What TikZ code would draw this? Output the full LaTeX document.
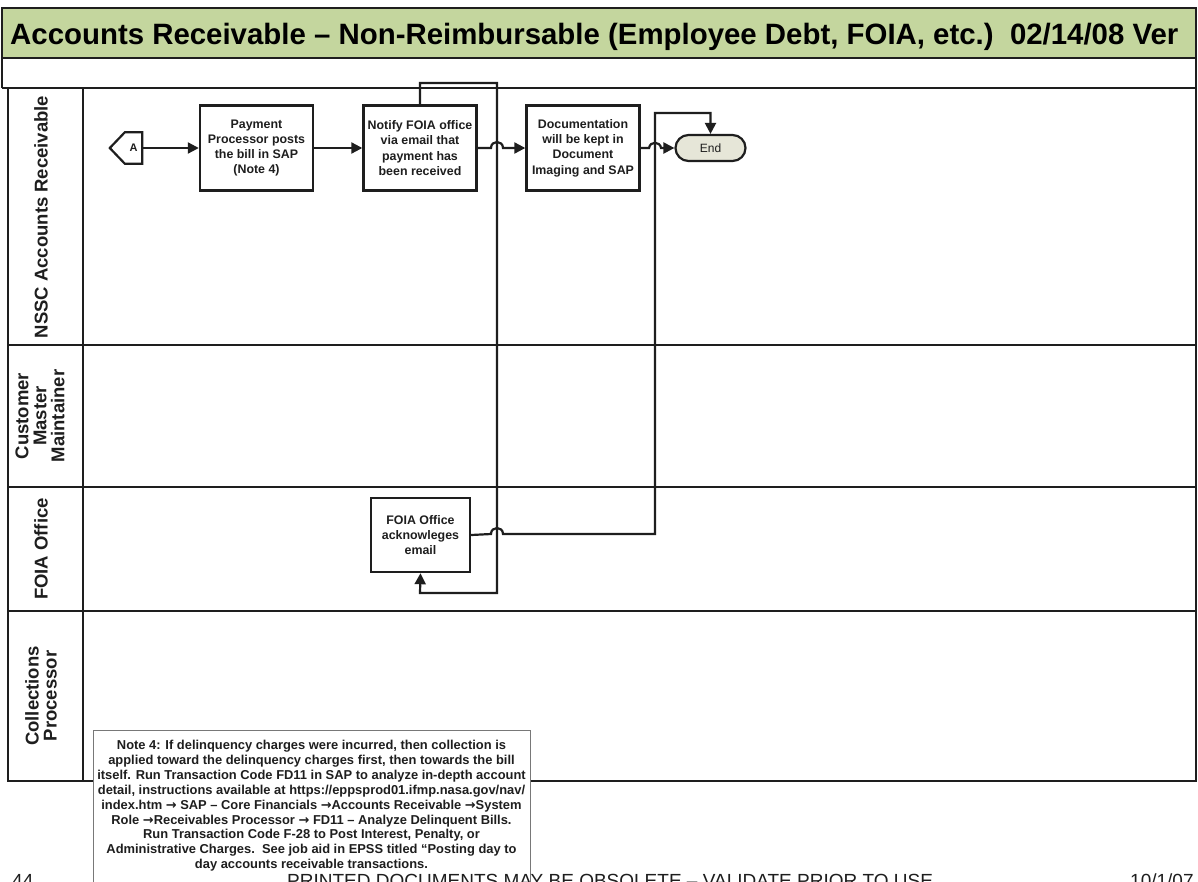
\documentclass[tikz,border=0pt]{standalone}
\usepackage{fontspec}
\setmainfont{Liberation Sans}
\newfontfamily\arrowfont{DejaVu Sans}
\newcommand{\rarr}{{\arrowfont\bfseries →}}
\usetikzlibrary{arrows.meta,shapes.misc}
\definecolor{titlegreen}{RGB}{196,214,158}
\definecolor{endfill}{RGB}{230,230,216}
\definecolor{ink}{RGB}{30,30,30}
\definecolor{notegray}{RGB}{120,120,120}
\tikzset{
  lanerule/.style={line width=2.2pt, draw=ink},
  proc/.style={draw=ink, line width=2.4pt, fill=white, minimum width=113pt, minimum height=85pt,
    align=center, inner sep=2pt, text=ink, font=\bfseries\fontsize{12.4}{15.3}\selectfont},
  flow/.style={line width=2.2pt, draw=ink, -{Triangle[length=11pt,width=11pt]}},
  plain/.style={line width=2.2pt, draw=ink},
  lanelabel/.style={rotate=90, align=center, text=ink, font=\bfseries\fontsize{18.5}{18}\selectfont},
  footer/.style={inner sep=0, text=ink, font=\fontsize{19}{20}\selectfont},
}
\begin{document}
\begin{tikzpicture}[x=1pt,y=-1pt]
\useasboundingbox (0,0) rectangle (1198,881);
\clip (0,0) rectangle (1198,881);
\fill[white] (0,0) rectangle (1198,881);

% title band
\draw[line width=2.4pt, draw=ink, fill=titlegreen] (2,8) rectangle (1196,58);
\node[anchor=base west, inner sep=0, font=\bfseries\fontsize{29.4}{32}\selectfont] (title) at (10,44)
  {Accounts Receivable – Non-Reimbursable (Employee Debt, FOIA, etc.)\ \ 02/14/08 Ver};
\draw[line width=1.8pt, draw=ink] (2,58) -- (2,88) (1196,58) -- (1196,88);

% swimlane table
\draw[lanerule] (8,88) rectangle (1196,781);
\draw[lanerule] (83,88) -- (83,781);
\draw[lanerule] (2,88) -- (1196,88);
\draw[lanerule] (8,345) -- (1196,345);
\draw[lanerule] (8,487) -- (1196,487);
\draw[lanerule] (8,611) -- (1196,611);

% lane labels
\node[lanelabel] (l1) at (41,217) {NSSC Accounts Receivable};
\node[lanelabel] (l2) at (40,416) {Customer\\Master\\Maintainer};
\node[lanelabel] (l3) at (41,549) {FOIA Office};
\node[lanelabel] (l4) at (41,696) {Collections\\Processor};

% off-page connector A
\node[minimum width=17pt, minimum height=31pt, inner sep=0] (A) at (133.5,148) {};
\draw[plain, fill=white] (A.east) -- (A.north east) -- (A.north west) -- ([xshift=-15pt]A.west) -- (A.south west) -- (A.south east) -- cycle;
\node[inner sep=0, text=ink, font=\bfseries\fontsize{11}{12}\selectfont] (Alabel) at (A) {A};

% process boxes
\node[proc] (pay) at (256.5,148) {Payment\\Processor posts\\the bill in SAP\\(Note 4)};
\node[proc] (notify) at (420,148) {Notify FOIA office\\via email that\\payment has\\been received};
\node[proc] (doc) at (583,148) {Documentation\\will be kept in\\Document\\Imaging and SAP};
\node[proc, minimum width=99pt, minimum height=74pt] (foia) at (420.5,535) {FOIA Office\\acknowleges\\email};
\node[draw=ink, line width=2.2pt, fill=endfill, rounded rectangle, minimum width=70pt, minimum height=26pt,
      inner sep=0, text=ink, font=\fontsize{12}{14}\selectfont] (end) at (710.5,148) {End};

% connectors
\draw[flow] (A.east) -- (pay.west);
\draw[flow] (pay.east) -- (notify.west);
\draw[flow] (notify.east) -- (491,148) .. controls (491,140) and (503,140) .. (503,148) -- (doc.west);
\draw[flow] (notify.north) -- (420,83) -- (497,83) -- (497,593) -- (420,593) -- (foia.south);
\draw[flow] (foia.east) -- (491,534) .. controls (491,526) and (503,526) .. (503,534) -- (655,534)
   -- (655,113) -- (710.5,113) -- (end.north);
\draw[flow] (doc.east) -- (649,148) .. controls (650,141) and (660,141) .. (661,148) -- (end.west);

% note box
\node[draw=notegray, line width=0.8pt, fill=white, anchor=north west, minimum width=437pt, minimum height=170pt,
      inner sep=0] (notebox) at (93,730) {};
\node[anchor=north, align=center, inner sep=0, text=ink, font=\bfseries\fontsize{12.9}{14.9}\selectfont] (note) at (311.5,740)
 {Note 4: If delinquency charges were incurred, then collection is\\
  applied toward the delinquency charges first, then towards the bill\\
  itself. Run Transaction Code FD11 in SAP to analyze in-depth account\\
  detail, instructions available at https://eppsprod01.ifmp.nasa.gov/nav/\\
  index.htm \rarr{} SAP – Core Financials \rarr Accounts Receivable \rarr System\\
  Role \rarr Receivables Processor \rarr{} FD11 – Analyze Delinquent Bills.\\
  Run Transaction Code F-28 to Post Interest, Penalty, or\\
  Administrative Charges.\ \ See job aid in EPSS titled “Posting day to\\
  day accounts receivable transactions.};

% footer (cut off by page edge, as in the reference)
\node[footer, anchor=base west] (pg) at (12,887) {44};
\node[footer, anchor=base west] (foot) at (287,887) {PRINTED DOCUMENTS MAY BE OBSOLETE – VALIDATE PRIOR TO USE};
\node[footer, anchor=base west] (dt) at (1130,887) {10/1/07};
\end{tikzpicture}
\end{document}
